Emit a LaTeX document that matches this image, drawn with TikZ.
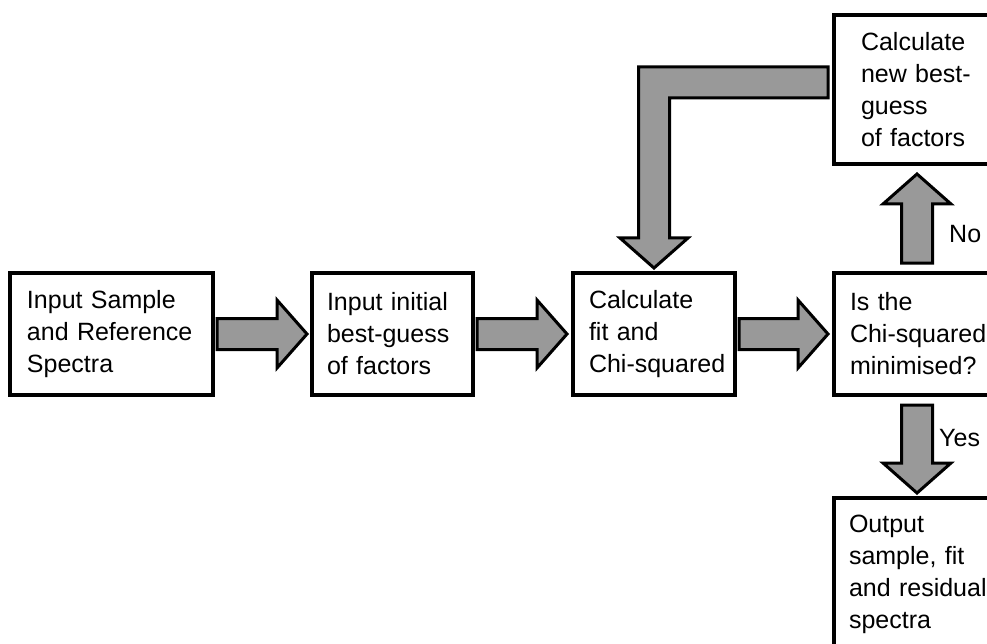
\documentclass[tikz,border=0pt]{standalone}
\usepackage{fontspec}
\setmainfont{Liberation Sans}
\usetikzlibrary{calc}
\definecolor{arrowgray}{RGB}{153,153,153}
\hfuzz=30pt

% right-pointing block arrow from tail centre #1 to tip #2
\newcommand{\rightblock}[2]{%
  \draw[blockarrow] ($(#1)+(0,-15.5)$) -- ($(#2)+(-30,-15.5)$) -- ($(#2)+(-30,-34)$)
    -- (#2) -- ($(#2)+(-30,34)$) -- ($(#2)+(-30,15.5)$) -- ($(#1)+(0,15.5)$) -- cycle;}
% vertical block arrow from tail centre #1 to tip #2; #3 = +1 down, -1 up
\newcommand{\vertblock}[3]{%
  \draw[blockarrow] ($(#1)+(-15.5,0)$) -- ($(#2)+(-15.5,-30*#3)$) -- ($(#2)+(-34,-30*#3)$)
    -- (#2) -- ($(#2)+(34,-30*#3)$) -- ($(#2)+(15.5,-30*#3)$) -- ($(#1)+(15.5,0)$) -- cycle;}

\begin{document}
\begin{tikzpicture}[x=1pt,y=-1pt,
  box/.style={draw=black, line width=3.5pt, fill=white, align=left,
    inner xsep=0pt, inner ysep=0pt, outer sep=0pt,
    font=\fontsize{25}{32}\selectfont,
    execute at begin node={\hyphenpenalty=10000\exhyphenpenalty=10000}},
  blockarrow/.style={draw=black, line width=3pt, fill=arrowgray, line join=miter},
  lbl/.style={font=\fontsize{25}{32}\selectfont, anchor=west, inner sep=0pt}]
\useasboundingbox (0,0) rectangle (987,644);
\clip (0,0) rectangle (987,644);

% process boxes
\node[box, minimum width=203, minimum height=122, text width=169] (b1) at (111.5,334)
  {Input~Sample\\and~Reference\\Spectra};
\node[box, minimum width=161, minimum height=122, text width=131] (b2) at (392.5,334)
  {Input~initial\\best-guess\\of~factors};
\node[box, minimum width=162, minimum height=122, text width=130] (b3) at (654,334)
  {Calculate\\fit~and\\Chi-squared};
\node[box, minimum width=166, minimum height=122, text width=134] (b4) at (917,334)
  {Is~the\\Chi-squared\\minimised?};
\node[box, minimum width=166, minimum height=149, text width=112] (b5) at (917,89.5)
  {Calculate\\new~best-\\guess\\of~factors};
\node[box, minimum width=166, minimum height=153, text width=136] (b6) at (917,574.5)
  {Output\\sample,~fit\\and~residual\\spectra};

% arrow end points
\coordinate (a1s) at ($(b1.east)+(4,0)$);
\coordinate (a1e) at ($(b2.west)+(-5,0)$);
\coordinate (a2s) at ($(b2.east)+(4,0)$);
\coordinate (a2e) at ($(b3.west)+(-6,0)$);
\coordinate (a3s) at ($(b3.east)+(4,0)$);
\coordinate (a3e) at ($(b4.west)+(-6,0)$);
\coordinate (yesS) at ($(b4.south)+(0,10)$);
\coordinate (yesE) at ($(b6.north)+(0,-5)$);
\coordinate (noS) at ($(b4.north)+(0,-10)$);
\coordinate (noE) at ($(b5.south)+(0,10)$);
\coordinate (loopS) at ($(b5.west)+(-6,-7)$);
\coordinate (loopE) at ($(b3.north)+(0,-5)$);
\coordinate (loopC) at (loopE |- loopS);

% block arrows
\rightblock{a1s}{a1e}
\rightblock{a2s}{a2e}
\rightblock{a3s}{a3e}
\vertblock{yesS}{yesE}{1}
\vertblock{noS}{noE}{-1}
\draw[blockarrow] ($(loopS)+(0,-15.5)$) -- ($(loopC)+(-15.5,-15.5)$)
  -- ($(loopE)+(-15.5,-30)$) -- ($(loopE)+(-34,-30)$) -- (loopE)
  -- ($(loopE)+(34,-30)$) -- ($(loopE)+(15.5,-30)$)
  -- ($(loopC)+(15.5,15.5)$) -- ($(loopS)+(0,15.5)$) -- cycle;

% decision labels
\node[lbl] (no) at (949,234) {No};
\node[lbl] (yes) at (939,438) {Yes};
\end{tikzpicture}
\end{document}
